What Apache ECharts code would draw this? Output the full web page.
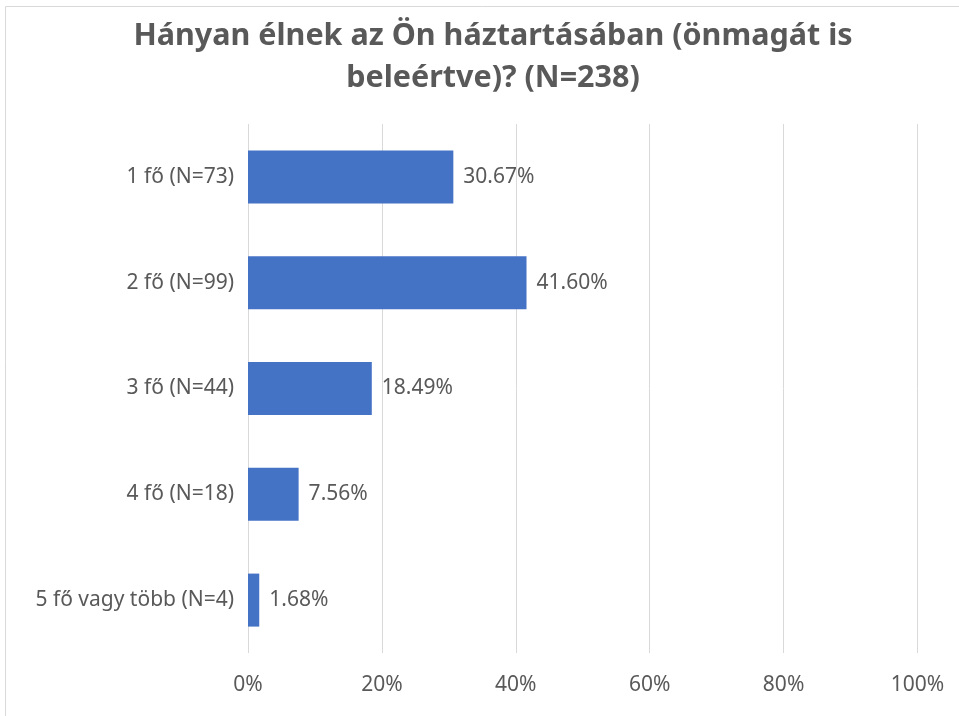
<!DOCTYPE html>
<html>
<head>
<meta charset="utf-8">
<script src="https://cdn.jsdelivr.net/npm/echarts@6/dist/echarts.min.js"></script>
<style>
  html, body { margin: 0; padding: 0; background: #fff; }
  #chart { width: 959px; height: 716px; }
</style>
</head>
<body>
<div id="chart"></div>
<script>
const categories = ['1 fő (N=73)', '2 fő (N=99)', '3 fő (N=44)', '4 fő (N=18)', '5 fő vagy több (N=4)']
const shares = [30.67, 41.60, 18.49, 7.56, 1.68]
const tickValues = [0, 20, 40, 60, 80, 100]

const chart = echarts.init(document.getElementById('chart'))
chart.setOption({
  animation: false,
  title: {
    text: 'Hányan élnek az Ön háztartásában (önmagát is\nbeleértve)? (N=238)',
    left: 488,
    textAlign: 'center',
    top: 10,
    textStyle: {
      fontFamily: 'Noto Sans',
      fontWeight: 'bold',
      fontSize: 30.5,
      lineHeight: 42,
      color: '#595959'
    }
  },
  graphic: [{
    type: 'rect',
    shape: { x: 5.5, y: 6.5, width: 960, height: 720 },
    style: { fill: null, stroke: '#d9d9d9', lineWidth: 1 },
    silent: true
  }],
  grid: {
    left: 248,
    right: 41.5,
    top: 124,
    bottom: 63
  },
  xAxis: {
    type: 'value',
    min: tickValues[0],
    max: tickValues[tickValues.length - 1],
    interval: 20,
    axisLine: { show: false },
    axisTick: { show: false },
    splitLine: { lineStyle: { color: '#d9d9d9', width: 1 } },
    axisLabel: {
      formatter: '{value}%',
      margin: 22,
      fontFamily: 'Noto Sans',
      fontSize: 21,
      color: '#595959'
    }
  },
  yAxis: {
    type: 'category',
    data: categories,
    inverse: true,
    axisLine: { show: false },
    axisTick: { show: false },
    axisLabel: {
      margin: 14,
      fontFamily: 'Noto Sans',
      fontSize: 21,
      color: '#595959'
    }
  },
  series: [{
    type: 'bar',
    data: shares,
    barWidth: 53,
    itemStyle: { color: '#4472C4' },
    label: {
      show: true,
      position: 'right',
      distance: 10,
      formatter: (p) => p.value.toFixed(2) + '%',
      fontFamily: 'Noto Sans',
      fontSize: 21,
      color: '#595959'
    }
  }]
})
</script>
</body>
</html>
